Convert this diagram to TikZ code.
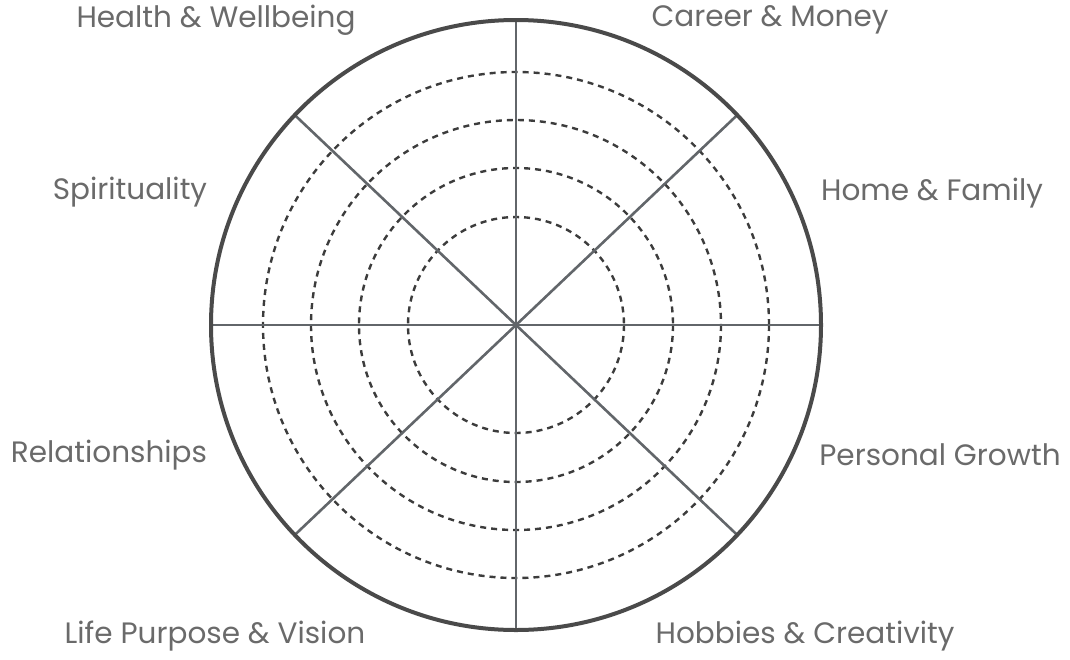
\documentclass[tikz,border=0pt]{standalone}
\usepackage{fontspec}
\setmainfont{Poppins}
\usetikzlibrary{calc}
\definecolor{rimgray}{HTML}{4A4A4A}
\definecolor{spokegray}{HTML}{62666A}
\definecolor{ringgray}{HTML}{3C3C3C}
\definecolor{labelgray}{HTML}{6A6A6A}

\begin{document}
\begin{tikzpicture}[x=1pt,y=-1pt,
  rim/.style={line width=4pt,draw=rimgray},
  spoke/.style={line width=2.6pt,draw=spokegray},
  ring/.style={line width=2.4pt,draw=ringgray,dash pattern=on 6pt off 5pt},
  area/.style={font=\fontsize{29.5}{34}\selectfont,text=labelgray,inner sep=0pt}]
\useasboundingbox (0,0) rectangle (1070,659);
\coordinate (c) at (516,325);
% dashed rings
\foreach \r in {108,157,205,253}
  \draw[ring] (c) circle (\r);
% spokes
\foreach \a in {0,43.5,90,136.5,180,223.5,270,316.5}
  \draw[spoke] (c) -- ++(\a:305);
\draw[rim] (c) circle (305);
% labels
\node[area] (health) at (216,20) {Health \& Wellbeing};
\node[area] (career) at (770,20) {Career \& Money};
\node[area] (spirit) at (130,192) {Spirituality};
\node[area] (home) at (932,193) {Home \& Family};
\node[area] (relation) at (109,455) {Relationships};
\node[area] (growth) at (940,455) {Personal Growth};
\node[area] (purpose) at (215,636) {Life Purpose \& Vision};
\node[area] (hobbies) at (805,636) {Hobbies \& Creativity};
\end{tikzpicture}
\end{document}
